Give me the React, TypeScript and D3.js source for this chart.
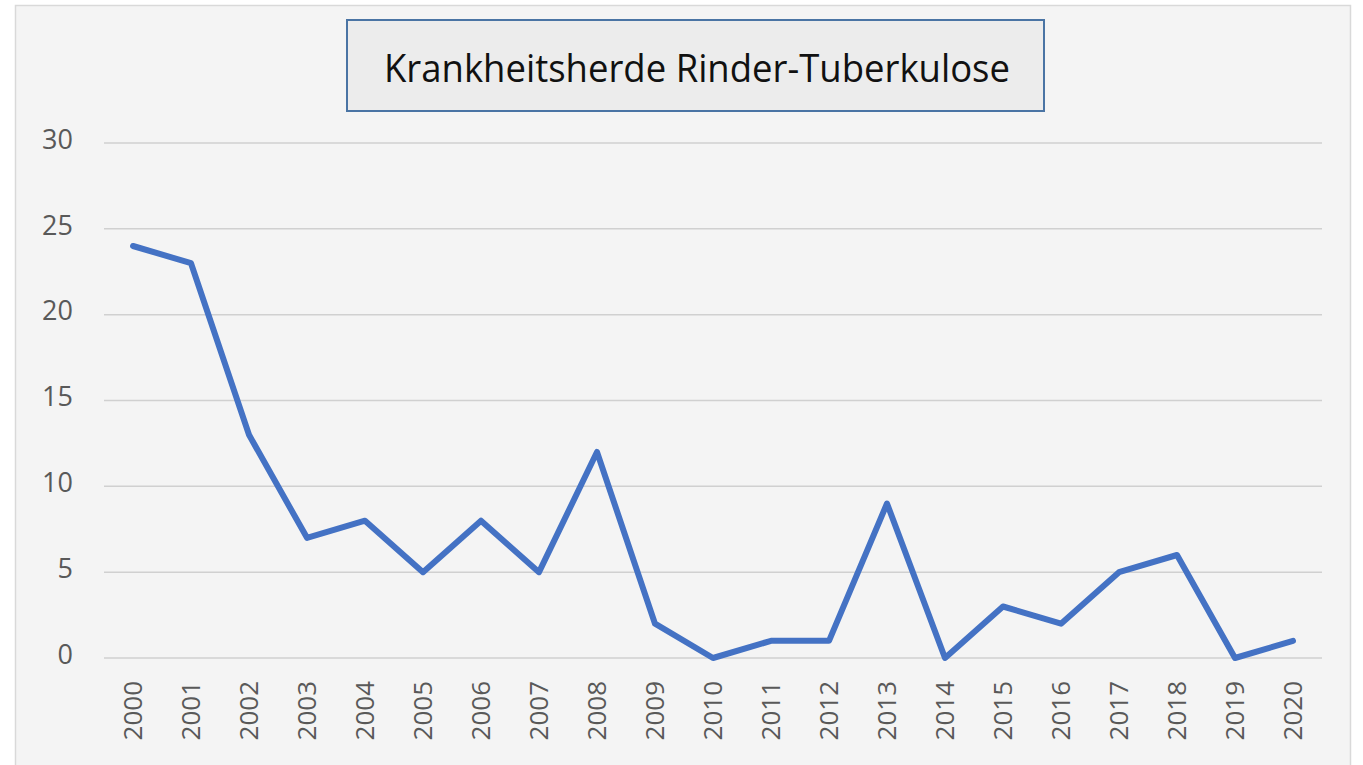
import React, { useEffect, useRef } from "react";
import * as d3 from "d3";

const years = [
  "2000", "2001", "2002", "2003", "2004", "2005", "2006", "2007", "2008", "2009", "2010",
  "2011", "2012", "2013", "2014", "2015", "2016", "2017", "2018", "2019", "2020",
];
const outbreaks = [24, 23, 13, 7, 8, 5, 8, 5, 12, 2, 0, 1, 1, 9, 0, 3, 2, 5, 6, 0, 1];
const yTicks = [0, 5, 10, 15, 20, 25, 30];
const title = "Krankheitsherde Rinder-Tuberkulose";

const W = 1363;
const H = 765;

const App = () => {
  const ref = useRef<SVGSVGElement>(null);

  useEffect(() => {
    document.body.style.margin = "0";
    const svg = d3.select(ref.current);
    svg.selectAll("*").remove();

    // chart background + frame
    svg.append("rect").attr("width", W).attr("height", H).attr("fill", "#ffffff");
    svg
      .append("rect")
      .attr("x", 15.5)
      .attr("y", 5.5)
      .attr("width", 1335)
      .attr("height", H + 10)
      .attr("fill", "#f4f4f4")
      .attr("stroke", "#d9d9d9")
      .attr("stroke-width", 1.5);

    const x = d3.scaleBand().domain(years).range([104, 1322]);
    const y = d3.scaleLinear().domain([0, 30]).range([658, 143]);

    // gridlines
    svg
      .append("g")
      .selectAll("line")
      .data(yTicks)
      .enter()
      .append("line")
      .attr("x1", 104)
      .attr("x2", 1322)
      .attr("y1", (d) => y(d))
      .attr("y2", (d) => y(d))
      .attr("stroke", "#d0d0d0")
      .attr("stroke-width", 1.5);

    // y labels
    svg
      .append("g")
      .selectAll("text")
      .data(yTicks)
      .enter()
      .append("text")
      .text((d) => d)
      .attr("x", 73)
      .attr("y", (d) => y(d) - 4)
      .attr("dy", "0.36em")
      .attr("text-anchor", "end")
      .attr("fill", "#595959")
      .style("font-family", "'Open Sans', sans-serif")
      .style("font-size", "27px");

    // x labels, rotated
    svg
      .append("g")
      .selectAll("text")
      .data(years)
      .enter()
      .append("text")
      .text((d) => d)
      .attr(
        "transform",
        (d) => `translate(${(x(d) as number) + x.bandwidth() / 2},681) rotate(-90)`
      )
      .attr("dy", "0.36em")
      .attr("text-anchor", "end")
      .attr("fill", "#595959")
      .style("font-family", "'Open Sans', sans-serif")
      .style("font-size", "26px");

    // the line
    const line = d3
      .line<number>()
      .x((d, i) => (x(years[i]) as number) + x.bandwidth() / 2)
      .y((d) => y(d));

    svg
      .append("path")
      .datum(outbreaks)
      .attr("fill", "none")
      .attr("stroke", "#4472c4")
      .attr("stroke-width", 6)
      .attr("stroke-linejoin", "round")
      .attr("stroke-linecap", "round")
      .attr("d", line);

    // title box
    svg
      .append("rect")
      .attr("x", 347)
      .attr("y", 20)
      .attr("width", 697)
      .attr("height", 91)
      .attr("fill", "#ececec")
      .attr("stroke", "#4a74a4")
      .attr("stroke-width", 2);

    svg
      .append("text")
      .text(title)
      .attr("x", 384)
      .attr("y", 82)
      .attr("textLength", 626)
      .attr("lengthAdjust", "spacingAndGlyphs")
      .attr("fill", "#111111")
      .style("font-family", "'Open Sans', sans-serif")
      .style("font-size", "39px");
  }, []);

  return <svg ref={ref} width={W} height={H} style={{ display: "block" }} />;
};

export default App;
